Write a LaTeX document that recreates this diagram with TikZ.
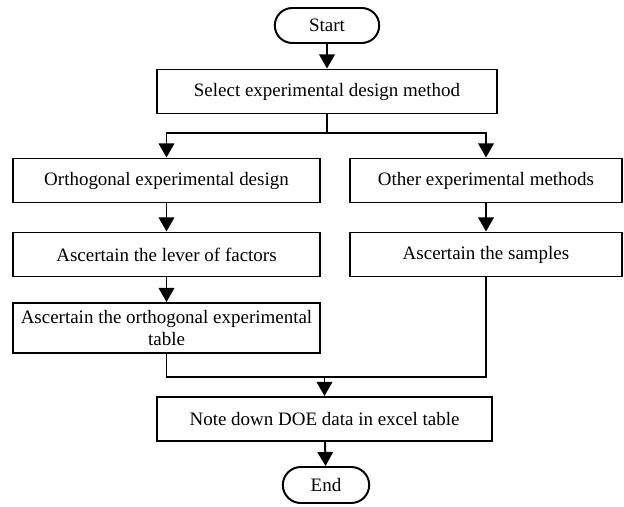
\documentclass[tikz,border=0pt]{standalone}
\usepackage{fontspec}
\setmainfont{Liberation Serif}
\usetikzlibrary{arrows.meta,shapes.misc}

\begin{document}
\begin{tikzpicture}[
  terminal/.style={rounded rectangle, draw, line width=1.4pt, minimum width=2.75cm, minimum height=0.875cm, text centered, font=\fontsize{13.5}{16}\selectfont, inner sep=2pt},
  process/.style={rectangle, draw, line width=1.4pt, minimum height=1.1cm, text centered, font=\fontsize{13.5}{16}\selectfont, inner sep=2pt},
  arrow/.style={-{Triangle[length=10pt,width=11pt]}, line width=1.4pt},
  link/.style={line width=1.4pt}
]
\useasboundingbox (0,0) rectangle (15.6,-12.65);
\node[terminal] (start) at (8.175,-0.6375) {Start};
\node[process, minimum width=8.5cm] (select) at (8.175,-2.2875) {Select experimental design method};
\node[process, minimum width=7.675cm] (orth) at (4.1625,-4.5125) {Orthogonal experimental design};
\node[process, minimum width=6.8cm] (other) at (12.15,-4.5125) {Other experimental methods};
\node[process, minimum width=7.675cm] (lever) at (4.1625,-6.3625) {Ascertain the lever of factors};
\node[process, minimum width=6.8cm] (samples) at (12.15,-6.3625) {Ascertain the samples};
\node[process, minimum width=7.675cm, minimum height=1.25cm, align=center, inner sep=1pt] (table) at (4.1625,-8.2) {Ascertain the orthogonal experimental\\table};
\node[process, minimum width=8.375cm] (note) at (8.1125,-10.475) {Note down DOE data in excel table};
\node[terminal, minimum width=2.3cm, minimum height=0.9cm] (end) at (8.15,-12.125) {End};
\coordinate (split) at (8.175,-3.325);
\coordinate (join) at (8.1125,-9.425);

\draw[arrow] (start) -- (select);
\draw[link] (select.south) -- (split);
\draw[arrow] (split) -| (orth.north);
\draw[arrow] (split) -| (other.north);
\draw[arrow] (orth) -- (lever);
\draw[arrow] (other) -- (samples);
\draw[arrow] (lever) -- (table);
\draw[link] (table.south) |- (join) -| (samples.south);
\draw[arrow] (join) -- (note.north);
\draw[arrow] (note) -- (end);
\end{tikzpicture}
\end{document}
